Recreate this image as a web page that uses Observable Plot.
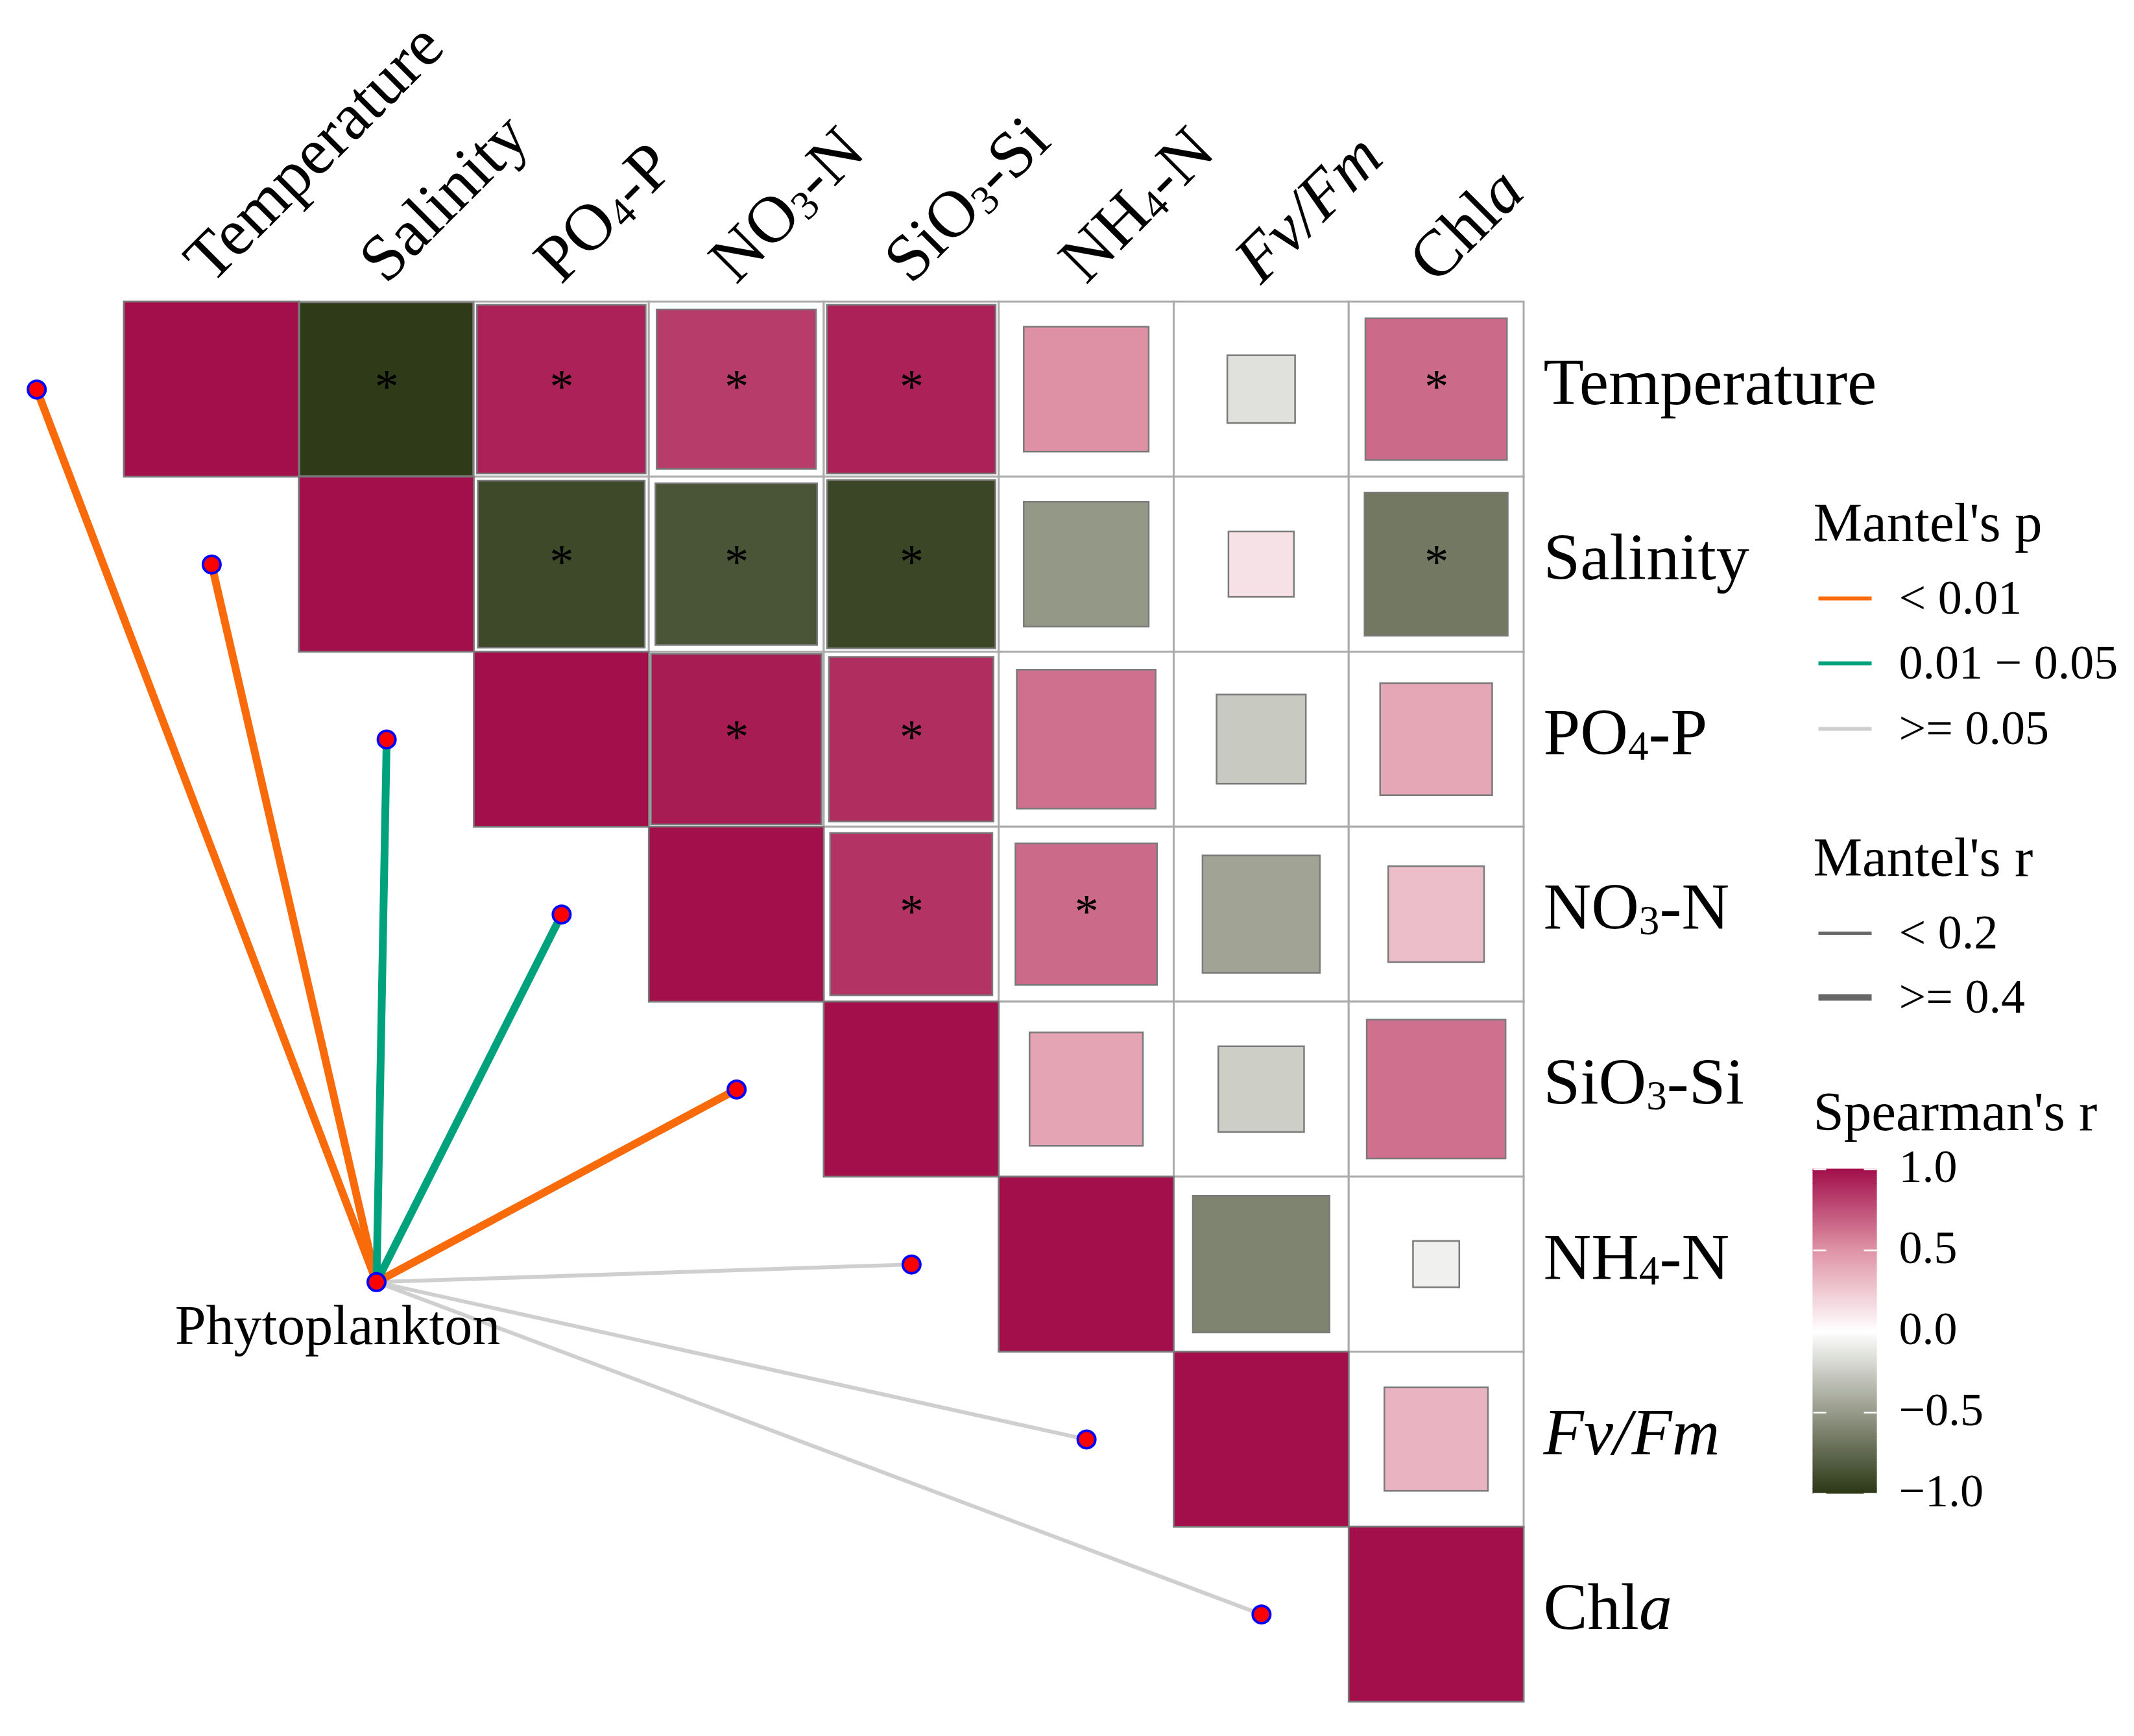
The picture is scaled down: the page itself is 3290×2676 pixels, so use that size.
<!DOCTYPE html>
<html>
<head>
<meta charset="utf-8">
<script src="https://cdn.jsdelivr.net/npm/d3@7"></script>
<script src="https://cdn.jsdelivr.net/npm/@observablehq/plot@0.6"></script>
<style>
  html, body { margin: 0; padding: 0; background: #ffffff; }
  svg { display: block; }
</style>
</head>
<body>
<div id="chart"></div>
<script>
// ---------------- data ----------------
const variables = ["Temperature", "Salinity", "PO4-P", "NO3-N", "SiO3-Si", "NH4-N", "Fv/Fm", "Chla"];

// Spearman's r, upper triangle (row = left variable, col = top variable)
const spearmanR = [
  [1.00, -0.985, 0.93, 0.83, 0.93, 0.51, -0.15, 0.655],
  [null, 1.00, -0.91, -0.855, -0.925, -0.51, 0.14, -0.67],
  [null, null, 1.00, 0.95, 0.885, 0.63, -0.26, 0.41],
  [null, null, null, 1.00, 0.86, 0.655, -0.45, 0.30],
  [null, null, null, null, 1.00, 0.42, -0.24, 0.63],
  [null, null, null, null, null, 1.00, -0.61, -0.07],
  [null, null, null, null, null, null, 1.00, 0.35],
  [null, null, null, null, null, null, null, 1.00]
];

// significance marks (*)
const significant = [
  [0, 1, 1, 1, 1, 0, 0, 1],
  [0, 0, 1, 1, 1, 0, 0, 1],
  [0, 0, 0, 1, 1, 0, 0, 0],
  [0, 0, 0, 0, 1, 1, 0, 0],
  [0, 0, 0, 0, 0, 0, 0, 0],
  [0, 0, 0, 0, 0, 0, 0, 0],
  [0, 0, 0, 0, 0, 0, 0, 0],
  [0, 0, 0, 0, 0, 0, 0, 0]
];

// Mantel test Phytoplankton vs each variable
const mantelP = ["< 0.01", "< 0.01", "0.01 − 0.05", "0.01 − 0.05", "< 0.01", ">= 0.05", ">= 0.05", ">= 0.05"];
const mantelR = [">= 0.4", ">= 0.4", ">= 0.4", ">= 0.4", ">= 0.4", "< 0.2", "< 0.2", "< 0.2"];

const pLevels = ["< 0.01", "0.01 − 0.05", ">= 0.05"];
const pColors = ["#F96A0A", "#00A27E", "#CFCFCF"];
const rLevels = ["< 0.2", ">= 0.4"];
const rLinkWidths = [6, 12];
const rLegendWidths = [5, 10];

const colorTicks = [1, 0.5, 0, -0.5, -1];
const colorTickLabels = ["1.0", "0.5", "0.0", "−0.5", "−1.0"];
const colorStops = [-1, -0.5, 0, 0.5, 1];
const colorRange = ["#2B3715", "#969A89", "#FFFFFF", "#DF93A6", "#A20F4B"];

const hubName = "Phytoplankton";
const legendTitles = ["Mantel's p", "Mantel's r", "Spearman's r"];

// ---------------- layout ----------------
const W = 3290, H = 2676;
const gridLeft = 191, gridTop = 465, cell = 269.75;
const ux = px => (px - gridLeft) / cell;
const uy = py => (py - gridTop) / cell;
const hub = {x: 1.442, y: 5.601};
const FONT = "Liberation Serif, Times New Roman, serif";

// ---------------- derived tables ----------------
const cells = [];
spearmanR.forEach((row, i) => row.forEach((r, j) => {
  if (r !== null) cells.push({row: i, col: j, r, sig: significant[i][j] === 1});
}));

const links = variables.map((v, i) => ({
  name: v, x: i - 0.5, y: i + 0.5, p: mantelP[i], r: mantelR[i]
}));

// legend geometry (pixel layout converted to chart units)
const legX0 = ux(2795), lineX1 = ux(2803), lineX2 = ux(2885), legTextX = ux(2927);
const titleY = [806, 1322, 1714].map(uy);
const pItemY = [922, 1022, 1123].map(uy);
const rItemY = [1438, 1537].map(uy);
const barTop = 1802, barBottom = 2302, barL = ux(2795), barR = ux(2893);
const barY = v => uy(barBottom - (v + 1) / 2 * (barBottom - barTop));
const barSlices = d3.range(0, 200).map(k => -1 + k * 0.01);

const pLegend = pLevels.map((lv, k) => ({label: lv, color: pColors[k], y: pItemY[k]}));
const rLegend = rLevels.map((lv, k) => ({label: lv, width: rLegendWidths[k], y: rItemY[k]}));

const sqHalf = d => Math.sqrt(Math.abs(d.r)) / 2;

const marks = [
  // grid cells
  Plot.rect(cells, {
    x1: d => d.col, x2: d => d.col + 1, y1: d => d.row, y2: d => d.row + 1,
    fill: "white", stroke: "#ABABAB", strokeWidth: 3
  }),
  // squares sized by |r|
  Plot.rect(cells, {
    x1: d => d.col + 0.5 - sqHalf(d), x2: d => d.col + 0.5 + sqHalf(d),
    y1: d => d.row + 0.5 - sqHalf(d), y2: d => d.row + 0.5 + sqHalf(d),
    fill: d => d.r, stroke: "#7A7A7A", strokeWidth: 2.5
  }),
  // significance
  Plot.text(cells.filter(d => d.sig), {
    x: d => d.col + 0.5, y: d => d.row + 0.5, text: () => "*", dy: -3,
    fontSize: 74, fill: "black", fontFamily: FONT
  })
];

// mantel links
const linkOrder = [2, 0, 1];
for (const k of linkOrder) {
  marks.push(Plot.link(links.filter(d => d.p === pLevels[k]), {
    x1: () => hub.x, y1: () => hub.y, x2: d => d.x, y2: d => d.y,
    stroke: pColors[k], strokeWidth: d => rLinkWidths[rLevels.indexOf(d.r)]
  }));
}
marks.push(
  Plot.dot(links, {x: "x", y: "y", r: 13.5, fill: "#FF0000", stroke: "#0000FF", strokeWidth: 4}),
  Plot.dot([hub], {x: "x", y: "y", r: 13.5, fill: "#FF0000", stroke: "#0000FF", strokeWidth: 4}),
  Plot.text([hubName], {
    x: () => hub.x, y: () => hub.y, text: d => d, dx: -60, dy: 68,
    fontSize: 86, textAnchor: "middle", fill: "black", fontFamily: FONT
  }),
  // top labels
  Plot.text(variables, {
    x: (d, i) => i + 0.5, y: () => -0.18, text: d => d, rotate: -45,
    textAnchor: "start", dx: -24, fontSize: 102, fill: "black", fontFamily: FONT, className: "varlabel"
  }),
  // right labels
  Plot.text(variables, {
    x: () => 8, y: (d, i) => i + 0.5, text: d => d, textAnchor: "start",
    dx: 30, dy: -10, fontSize: 102, fill: "black", fontFamily: FONT, className: "varlabel"
  }),
  // legend titles
  Plot.text(legendTitles, {
    x: () => legX0, y: (d, i) => titleY[i], text: d => d, textAnchor: "start",
    fontSize: 85, fill: "black", fontFamily: FONT
  }),
  // Mantel's p legend
  Plot.link(pLegend, {
    x1: () => lineX1, x2: () => lineX2, y1: "y", y2: "y",
    stroke: d => d.color, strokeWidth: 6
  }),
  Plot.text(pLegend, {
    x: () => legTextX, y: "y", text: "label", textAnchor: "start",
    fontSize: 74, fill: "black", fontFamily: FONT
  }),
  // Mantel's r legend
  Plot.link(rLegend, {
    x1: () => lineX1, x2: () => lineX2, y1: "y", y2: "y",
    stroke: "#666666", strokeWidth: d => d.width
  }),
  Plot.text(rLegend, {
    x: () => legTextX, y: "y", text: "label", textAnchor: "start",
    fontSize: 74, fill: "black", fontFamily: FONT
  }),
  // colour bar
  Plot.rect(barSlices, {
    x1: () => barL, x2: () => barR,
    y1: v => barY(v), y2: v => barY(v + 0.01) ,
    fill: v => v + 0.005, inset: -0.5
  }),
  Plot.link(colorTicks, {
    x1: () => barL, x2: () => barL + 20 / cell, y1: v => barY(v), y2: v => barY(v),
    stroke: "white", strokeWidth: 2.5
  }),
  Plot.link(colorTicks, {
    x1: () => barR - 20 / cell, x2: () => barR, y1: v => barY(v), y2: v => barY(v),
    stroke: "white", strokeWidth: 2.5
  }),
  Plot.text(colorTicks, {
    x: () => legTextX, y: v => barY(v), text: (v, i) => colorTickLabels[i], dy: -4,
    textAnchor: "start", fontSize: 72, fill: "black", fontFamily: FONT
  })
);

const chart = Plot.plot({
  width: W, height: H,
  margin: 0, marginTop: 0, marginRight: 0, marginBottom: 0, marginLeft: 0,
  style: {fontFamily: FONT, background: "white", overflow: "visible"},
  x: {type: "linear", domain: [ux(0), ux(W)], range: [0, W], axis: null},
  y: {type: "linear", domain: [uy(0), uy(H)], range: [0, H], axis: null},
  color: {type: "linear", domain: colorStops, range: colorRange},
  marks
});

// rich text for variable labels (subscripts / italics)
function formatLabel(el, label, fs) {
  const sel = d3.select(el);
  sel.text(null);
  if (label === "Fv/Fm") {
    sel.append("tspan").attr("font-style", "italic").text("Fv/Fm");
    return;
  }
  if (label === "Chla") {
    sel.append("tspan").text("Chl");
    sel.append("tspan").attr("font-style", "italic").text("a");
    return;
  }
  const parts = label.split(/(\d)/).filter(s => s.length);
  let shifted = false;
  for (const p of parts) {
    if (/^\d$/.test(p)) {
      sel.append("tspan").attr("font-size", (fs * 0.62) + "px").attr("dy", (fs * 0.08) + "px").text(p);
      shifted = true;
    } else {
      const t = sel.append("tspan").text(p);
      if (shifted) { t.attr("dy", (-fs * 0.08) + "px"); shifted = false; }
    }
  }
}
d3.select(chart).selectAll("g.varlabel text").each(function () {
  formatLabel(this, this.textContent, 102);
});

document.getElementById("chart").appendChild(chart);
</script>
</body>
</html>
